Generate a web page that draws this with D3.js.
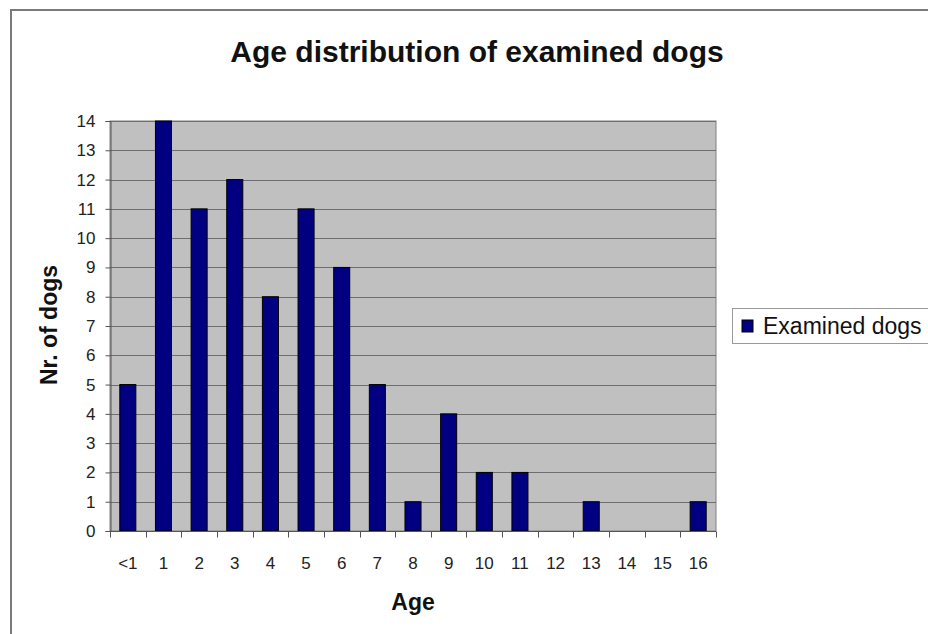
<!DOCTYPE html>
<html>
<head>
<meta charset="utf-8">
<script src="https://cdn.jsdelivr.net/npm/d3@7"></script>
<style>
  body { margin: 0; background: #fff; }
  svg { display: block; font-family: "Liberation Sans", Arial, sans-serif; }
</style>
</head>
<body>
<div id="chart"></div>
<script>
// chart data
var ageLabels = ['<1', '1', '2', '3', '4', '5', '6', '7', '8', '9', '10', '11', '12', '13', '14', '15', '16'];
var dogCounts = [5, 14, 11, 12, 8, 11, 9, 5, 1, 4, 2, 2, 0, 1, 0, 0, 1];
var yTicks = [0, 1, 2, 3, 4, 5, 6, 7, 8, 9, 10, 11, 12, 13, 14];
var seriesName = 'Examined dogs';

var width = 928, height = 634;
var plot = { left: 110, top: 121, right: 716, bottom: 531 };

var svg = d3.select('#chart').append('svg')
  .attr('width', width)
  .attr('height', height);

// outer frame (right and bottom edges fall outside the picture)
svg.append('path')
  .attr('d', 'M11,' + (height + 5) + 'V10H' + (width + 5))
  .attr('fill', 'none')
  .attr('stroke', '#7a7a7a')
  .attr('stroke-width', 2);

var x = d3.scaleBand().domain(ageLabels).range([plot.left, plot.right]).paddingInner(0).paddingOuter(0);
var y = d3.scaleLinear().domain([0, 14]).range([plot.bottom, plot.top]);

// plot background
svg.append('rect')
  .attr('x', plot.left)
  .attr('y', plot.top)
  .attr('width', plot.right - plot.left)
  .attr('height', plot.bottom - plot.top)
  .attr('fill', '#c0c0c0')
  .attr('stroke', '#808080')
  .attr('stroke-width', 1);

// gridlines
svg.append('g').selectAll('line').data(yTicks.slice(1)).enter().append('line')
  .attr('x1', plot.left)
  .attr('x2', plot.right)
  .attr('y1', function(d) { return Math.round(y(d)) + 0.5; })
  .attr('y2', function(d) { return Math.round(y(d)) + 0.5; })
  .attr('stroke', '#6e6e6e')
  .attr('stroke-width', 1);

// bars
var barW = x.bandwidth() * 0.45;
svg.append('g').selectAll('.bar').data(dogCounts).enter().append('rect')
  .attr('class', 'bar')
  .attr('x', function(d, i) { return x(ageLabels[i]) + (x.bandwidth() - barW) / 2; })
  .attr('width', barW)
  .attr('y', function(d) { return y(d); })
  .attr('height', function(d) { return y(0) - y(d); })
  .attr('fill', '#000080')
  .attr('stroke', '#000')
  .attr('stroke-width', 1)
  .style('display', function(d) { return d > 0 ? null : 'none'; });

// y axis
var yAxis = d3.axisLeft(y).tickValues(yTicks).tickSize(5).tickPadding(10);
var gy = svg.append('g')
  .attr('transform', 'translate(' + (plot.left + 0.5) + ',0)')
  .call(yAxis);
gy.select('.domain').attr('stroke', '#555');
gy.selectAll('.tick line').attr('stroke', '#555');
gy.selectAll('.tick text')
  .attr('font-size', 17)
  .attr('fill', '#222')
  .attr('font-family', '"Liberation Sans", Arial, sans-serif');

// x axis: ticks at band boundaries
var gx = svg.append('g')
  .attr('transform', 'translate(0,' + (plot.bottom + 0.5) + ')');
gx.append('line')
  .attr('x1', plot.left).attr('x2', plot.right)
  .attr('stroke', '#555');
var bounds = ageLabels.map(function(d) { return x(d); }).concat([plot.right]);
gx.selectAll('.xt').data(bounds).enter().append('line')
  .attr('class', 'xt')
  .attr('x1', function(d) { return Math.round(d) + 0.5; })
  .attr('x2', function(d) { return Math.round(d) + 0.5; })
  .attr('y1', 0).attr('y2', 6)
  .attr('stroke', '#555');
gx.selectAll('.xl').data(ageLabels).enter().append('text')
  .attr('class', 'xl')
  .attr('x', function(d) { return x(d) + x.bandwidth() / 2; })
  .attr('y', 37)
  .attr('text-anchor', 'middle')
  .attr('font-size', 17)
  .attr('fill', '#222')
  .text(function(d) { return d; });

// title
svg.append('text')
  .attr('x', 477)
  .attr('y', 62)
  .attr('text-anchor', 'middle')
  .attr('font-size', 30)
  .attr('font-weight', 'bold')
  .attr('fill', '#111')
  .text('Age distribution of examined dogs');

// axis titles
svg.append('text')
  .attr('transform', 'translate(57,325) rotate(-90)')
  .attr('text-anchor', 'middle')
  .attr('font-size', 23)
  .attr('font-weight', 'bold')
  .attr('fill', '#111')
  .text('Nr. of dogs');

svg.append('text')
  .attr('x', 413)
  .attr('y', 610)
  .attr('text-anchor', 'middle')
  .attr('font-size', 23)
  .attr('font-weight', 'bold')
  .attr('fill', '#111')
  .text('Age');

// legend
var lg = svg.append('g').attr('transform', 'translate(732,308)');
lg.append('rect')
  .attr('x', 0.5).attr('y', 0.5)
  .attr('width', 220).attr('height', 35)
  .attr('fill', '#fff')
  .attr('stroke', '#999');
lg.append('rect')
  .attr('x', 10).attr('y', 12)
  .attr('width', 11).attr('height', 12)
  .attr('fill', '#000080')
  .attr('stroke', '#000');
lg.append('text')
  .attr('x', 31).attr('y', 26)
  .attr('font-size', 23)
  .attr('fill', '#111')
  .text(seriesName);
</script>
</body>
</html>
